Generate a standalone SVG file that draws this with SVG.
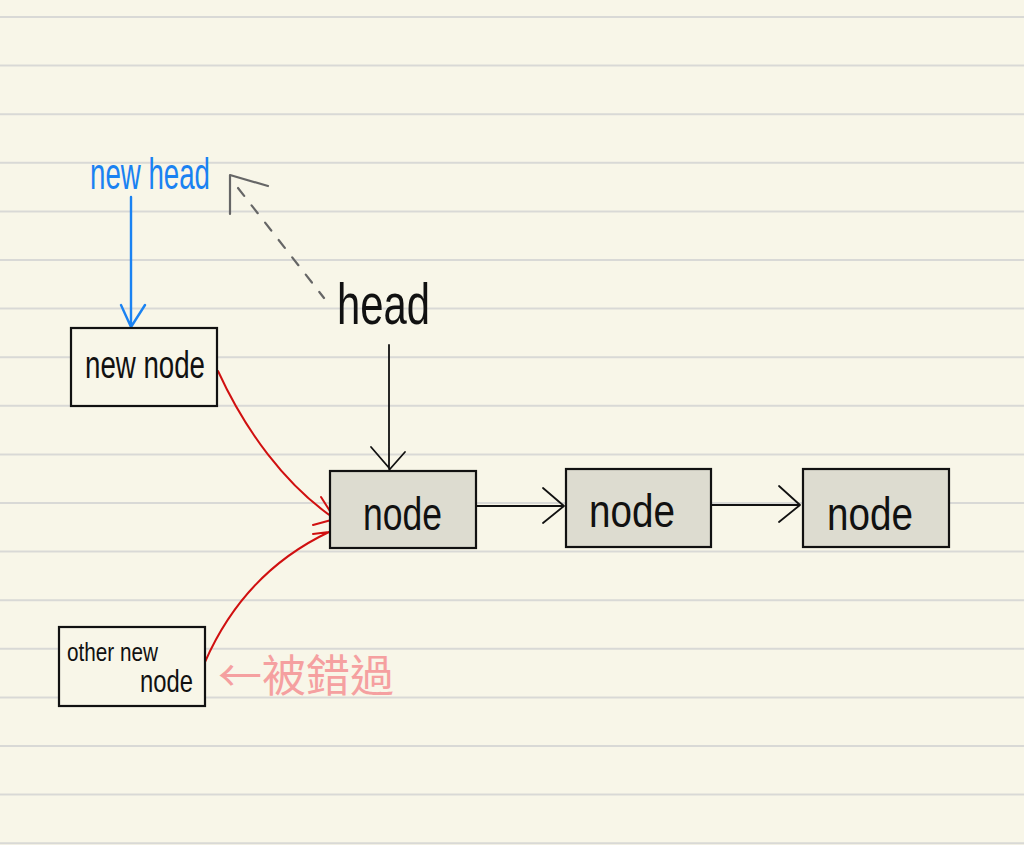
<svg xmlns="http://www.w3.org/2000/svg" width="1024" height="845" viewBox="0 0 1024 845">
<style>
.rule{stroke:#d9d9d6;stroke-width:2}
.box{stroke:#111;stroke-width:2.2}
.plain{fill:#f8f6e8}
.grey{fill:#dddcd0}
.hand{font-family:"Liberation Sans","DejaVu Sans",sans-serif;fill:#111}
.blk{fill:none;stroke:#111;stroke-width:1.8;stroke-linecap:round;stroke-linejoin:round}
.red{fill:none;stroke:#d01010;stroke-width:2;stroke-linecap:round;stroke-linejoin:round}
.blue{fill:none;stroke:#1a82f2;stroke-width:2.4;stroke-linecap:round;stroke-linejoin:round}
.gray{fill:none;stroke:#666;stroke-width:2.2;stroke-linecap:round;stroke-linejoin:round}
</style>
<rect width="1024" height="845" fill="#f8f6e8"/>
<g id="ruled-lines">
<line class="rule" x1="0" y1="17" x2="1024" y2="17"/>
<line class="rule" x1="0" y1="65.6" x2="1024" y2="65.6"/>
<line class="rule" x1="0" y1="114.2" x2="1024" y2="114.2"/>
<line class="rule" x1="0" y1="162.8" x2="1024" y2="162.8"/>
<line class="rule" x1="0" y1="211.4" x2="1024" y2="211.4"/>
<line class="rule" x1="0" y1="260" x2="1024" y2="260"/>
<line class="rule" x1="0" y1="308.6" x2="1024" y2="308.6"/>
<line class="rule" x1="0" y1="357.2" x2="1024" y2="357.2"/>
<line class="rule" x1="0" y1="405.8" x2="1024" y2="405.8"/>
<line class="rule" x1="0" y1="454.4" x2="1024" y2="454.4"/>
<line class="rule" x1="0" y1="503" x2="1024" y2="503"/>
<line class="rule" x1="0" y1="551.6" x2="1024" y2="551.6"/>
<line class="rule" x1="0" y1="600.2" x2="1024" y2="600.2"/>
<line class="rule" x1="0" y1="648.8" x2="1024" y2="648.8"/>
<line class="rule" x1="0" y1="697.4" x2="1024" y2="697.4"/>
<line class="rule" x1="0" y1="746" x2="1024" y2="746"/>
<line class="rule" x1="0" y1="794.6" x2="1024" y2="794.6"/>
<line class="rule" x1="0" y1="843.2" x2="1024" y2="843.2"/>
</g>
<g id="connectors">
<path class="blue" d="M131 197 V327 M121 305 L131 327 L145 305"/>
<path class="gray" d="M238 188 L324 298" stroke-dasharray="10 12" stroke-width="1.8"/>
<path class="gray" d="M230 214 V175 L268 186"/>
<path class="blk" d="M389 345 V469 M371 447 L390 469 L405 452"/>
<path class="blk" d="M477 506 H564 M543 488 L564 506 L543 523"/>
<path class="blk" d="M712 505 H800 M779 486 L800 505 L779 522"/>
<path class="red" d="M218 371 C245 430 285 485 335 519 M321 497 L335 519 L313 525"/>
<path class="red" d="M205 662 C230 605 270 560 329 532 M313 534 L329 532"/>
</g>
<g id="new-head-label">
<text class="hand" x="90" y="189" font-size="44" textLength="120" lengthAdjust="spacingAndGlyphs" style="fill:#1a82f2">new head</text>
</g>
<g id="head-label">
<text class="hand" x="337" y="324" font-size="58" textLength="93" lengthAdjust="spacingAndGlyphs">head</text>
</g>
<g id="new-node">
<rect class="box plain" x="71" y="328" width="146" height="78"/>
<text class="hand" x="85" y="378" font-size="38" textLength="120" lengthAdjust="spacingAndGlyphs">new node</text>
</g>
<g id="node-1">
<rect class="box grey" x="330" y="471" width="146" height="77"/>
<text class="hand" x="363" y="530" font-size="46" textLength="79" lengthAdjust="spacingAndGlyphs">node</text>
</g>
<g id="node-2">
<rect class="box grey" x="566" y="469" width="145" height="78"/>
<text class="hand" x="589" y="527" font-size="46" textLength="86" lengthAdjust="spacingAndGlyphs">node</text>
</g>
<g id="node-3">
<rect class="box grey" x="803" y="469" width="146" height="78"/>
<text class="hand" x="827" y="530" font-size="46" textLength="86" lengthAdjust="spacingAndGlyphs">node</text>
</g>
<g id="other-new-node">
<rect class="box plain" x="59" y="627" width="146" height="79"/>
<text class="hand" x="67" y="661" font-size="26" textLength="91" lengthAdjust="spacingAndGlyphs">other new</text>
<text class="hand" x="140" y="692" font-size="32" textLength="53" lengthAdjust="spacingAndGlyphs">node</text>
</g>
<g id="missed-label">
<text x="218" y="692" font-size="44" font-family="'Noto Sans CJK TC','Noto Sans CJK SC',sans-serif" fill="#f5a0a0">←被錯過</text>
</g>
</svg>
